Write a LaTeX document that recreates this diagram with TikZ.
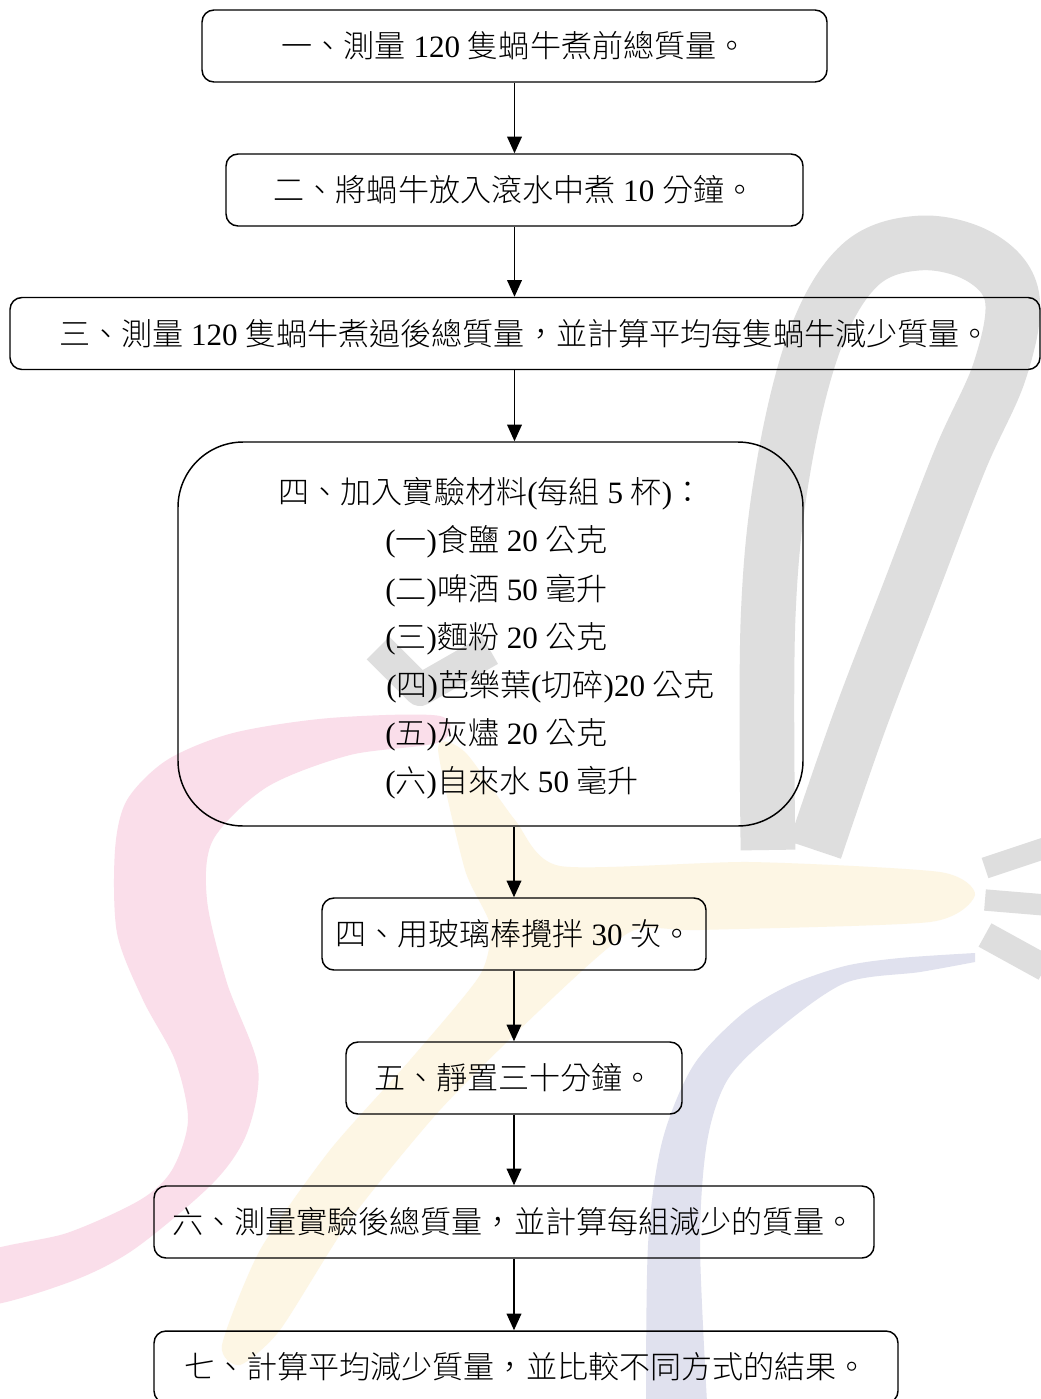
\documentclass[tikz,border=0pt]{standalone}
\usepackage{fontspec}
\setmainfont{Noto Sans CJK TC}[UprightFont={* Light}]
\newfontfamily\latf{Liberation Serif}
\usetikzlibrary{arrows.meta}
\newcommand\LS[1]{{\latf #1}}
\definecolor{wgray}{RGB}{222,222,222}
\definecolor{wpink}{RGB}{250,222,234}
\definecolor{wyel}{RGB}{253,246,228}
\definecolor{wblue}{RGB}{224,225,238}
\begin{document}
\begin{tikzpicture}[x=0.75pt,y=-0.75pt,
  box/.style={draw=black, line width=1.1pt, rounded corners=9pt, minimum height=54pt,
              inner sep=0pt, font=\fontsize{23.3}{28}\selectfont, text=black},
  txt/.style={inner sep=0pt, font=\fontsize{23.3}{28}\selectfont, text=black},
  conn/.style={draw=black, line width=1.2pt, -{Triangle[width=11pt,length=12.5pt]}}]
\useasboundingbox (0,0) rectangle (1041,1399);
\clip (0,0) rectangle (1041,1399);
\fill[white] (0,0) rectangle (1041,1399);

% ---- watermark ----
\draw[wgray, line width=41pt, line cap=butt] plot[smooth, tension=0.6] coordinates
  {(768,850) (768,620) (783,470) (815,340) (860,265) (920,243) (980,257) (1012,297)
   (1000,370) (960,460) (910,590) (860,720) (815,850)};
\draw[wgray, line width=24pt, line join=round] (378,648) -- (420,690) -- (490,650);
\draw[wgray, line width=16pt] (985,868) -- (1045,848);
\draw[wgray, line width=16pt] (985,900) -- (1045,905);
\draw[wgray, line width=20pt] (985,935) -- (1045,968);
\fill[wpink] plot[smooth cycle, tension=0.5] coordinates
  {(440,716) (330,718) (233,733) (167,760) (127,800) (115,850) (117,933) (143,1000)
   (175,1060) (188,1120) (172,1170) (140,1200) (67,1233) (-20,1255)
   (-20,1305) (67,1283) (133,1250) (213,1183) (247,1133) (258,1067) (227,983)
   (207,900) (213,840) (267,787) (350,755) (440,742)};
\fill[wyel] plot[smooth cycle, tension=0.4] coordinates
  {(438,748) (465,752) (515,820) (560,866) (750,862) (940,872) (975,895) (930,922)
   (700,930) (630,932) (540,1010) (440,1110) (350,1220) (280,1330) (240,1365)
   (222,1345) (260,1250) (330,1150) (410,1060) (480,975) (490,925) (465,870)};
\fill[wblue] plot[smooth, tension=0.5] coordinates
  {(975,953) (900,958) (845,966) (790,985) (742,1014) (693,1066) (662,1142) (648,1245) (646,1420)}
  -- plot[smooth, tension=0.5] coordinates
  {(708,1420) (700,1245) (707,1142) (728,1079) (776,1031) (845,983) (920,972) (975,962)} -- cycle;

% ---- boxes ----
\node[box, minimum width=468.75pt] (b1) at (514.5,46) {一、測量\LS{~120~}隻蝸牛煮前總質量。};
\node[box, minimum width=432.75pt] (b2) at (514.5,190) {二、將蝸牛放入滾水中煮\LS{~10~}分鐘。};
\node[box, minimum width=772.5pt] (b3) at (525,333.5) {三、測量\LS{~120~}隻蝸牛煮過後總質量，並計算平均每隻蝸牛減少質量。};
\node[box, rounded corners=49pt, minimum width=468.75pt, minimum height=288pt] (b4) at (490.5,634) {};
\node[txt] (h4) at (491,494) {四、加入實驗材料\LS{(}每組\LS{~5~}杯\LS{)}：};
\node[txt, anchor=west] (i1) at (385,542) {\LS{(}一\LS{)}食鹽\LS{~20~}公克};
\node[txt, anchor=west] (i2) at (385,591) {\LS{(}二\LS{)}啤酒\LS{~50~}毫升};
\node[txt, anchor=west] (i3) at (385,639) {\LS{(}三\LS{)}麵粉\LS{~20~}公克};
\node[txt, anchor=west] (i4) at (386,687) {\LS{(}四\LS{)}芭樂葉\LS{(}切碎\LS{)20~}公克};
\node[txt, anchor=west] (i5) at (385,735) {\LS{(}五\LS{)}灰燼\LS{~20~}公克};
\node[txt, anchor=west] (i6) at (385,783) {\LS{(}六\LS{)}自來水\LS{~50~}毫升};
\node[box, minimum width=288pt] (b5) at (514,934) {四、用玻璃棒攪拌\LS{~30~}次。};
\node[box, minimum width=252pt] (b6) at (514,1078) {五、靜置三十分鐘。};
\node[box, minimum width=540pt] (b7) at (514,1222) {六、測量實驗後總質量，並計算每組減少的質量。};
\node[box, minimum width=558pt] (b8) at (526,1367) {七、計算平均減少質量，並比較不同方式的結果。};

% ---- connectors ----
\draw[conn] (b1.south) -- (b2.north);
\draw[conn] (b2.south) -- (b3.north -| b2.north);
\draw[conn] (b3.south -| b2.south) -- (b4.north -| b2.south);
\draw[conn] (b4.south -| b5.north) -- (b5.north);
\draw[conn] (b5.south) -- (b6.north);
\draw[conn] (b6.south) -- (b7.north);
\draw[conn] (b7.south) -- (b8.north -| b7.south);
\end{tikzpicture}
\end{document}
